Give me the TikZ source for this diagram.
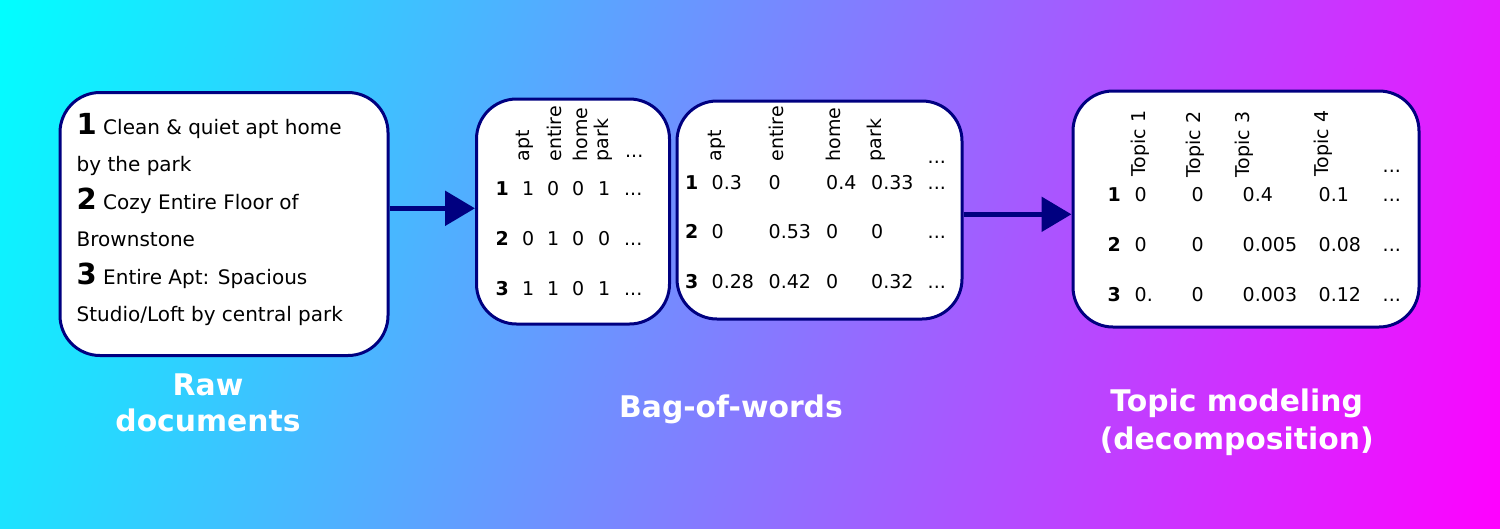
\documentclass[tikz,border=0pt]{standalone}
\usepackage{fontspec}
\setmainfont{DejaVu Sans}
\usetikzlibrary{arrows.meta,shadings}
\definecolor{navy}{RGB}{0,0,128}
\definecolor{cTL}{RGB}{0,255,255}
\definecolor{cTR}{RGB}{227,28,255}
\definecolor{cBL}{RGB}{28,227,255}
\definecolor{cBR}{RGB}{255,0,255}
\tikzset{
  box/.style={draw=navy, line width=3pt, fill=white, rounded corners=40pt, inner sep=0pt},
  txt/.style={anchor=base west, inner sep=0pt, font=\fontsize{20}{20}\selectfont},
  tb/.style={anchor=base west, inner sep=0pt, font=\fontsize{19}{19}\selectfont},
  hd/.style={tb, rotate=90},
  rn/.style={anchor=base west, inner sep=0pt, font=\fontsize{19}{19}\selectfont\bfseries},
  lab/.style={anchor=base, inner sep=0pt, text=white, font=\fontsize{29.8}{29.8}\selectfont\bfseries},
  arr/.style={draw=navy, line width=5.5pt, -{Triangle[length=30pt,width=34pt]}},
}
\newcommand{\bnum}[1]{{\bfseries\fontsize{29}{29}\selectfont #1}}
\begin{document}
\begin{tikzpicture}[x=1pt,y=-1pt]
\useasboundingbox (0,0) rectangle (1500,528);
\shade[upper left=cTL, upper right=cTR, lower left=cBL, lower right=cBR] (0,0) rectangle (1500,528);

% boxes
\node[box, minimum width=328pt, minimum height=263pt] (raw) at (224,224) {};
\node[box, minimum width=193pt, minimum height=225pt] (bow) at (573,211.5) {};
\node[box, minimum width=285pt, minimum height=218pt] (tfidf) at (819.5,210) {};
\node[box, minimum width=346pt, minimum height=236pt] (topic) at (1246,209) {};

% arrows
\draw[arr] (raw.east |- 0,208.3) -- (bow.west |- 0,208.3);
\draw[arr] (tfidf.east |- 0,214.3) -- (topic.west |- 0,214.3);

% raw documents text
\node[txt] (r1) at (76.5,134.3) {\bnum{1} Clean \& quiet apt home};
\node[txt] (r1b) at (76.5,171) {by the park};
\node[txt] (r2) at (76.5,209) {\bnum{2} Cozy Entire Floor of};
\node[txt] (r2b) at (76.5,246) {Brownstone};
\node[txt] (r3) at (76.5,284) {\bnum{3} Entire Apt: Spacious};
\node[txt] (r3b) at (76.5,321) {Studio/Loft by central park};

% bag of words (counts)
\node[hd] (bh1) at (529,161.7) {apt};
\node[hd] (bh2) at (561.5,161.7) {entire};
\node[hd] (bh3) at (587.5,161.7) {home};
\node[hd] (bh4) at (608.5,161.7) {park};
\node[tb] (bh5) at (625,157) {...};
\node[rn] (br1) at (495.5,195) {1};
\node[rn] (br2) at (495.5,245) {2};
\node[rn] (br3) at (495.5,295) {3};
\node[tb] (b11) at (522,195) {1};
\node[tb] (b12) at (547,195) {0};
\node[tb] (b13) at (572,195) {0};
\node[tb] (b14) at (598,195) {1};
\node[tb] (b15) at (624,195) {...};
\node[tb] (b21) at (522,245) {0};
\node[tb] (b22) at (547,245) {1};
\node[tb] (b23) at (572,245) {0};
\node[tb] (b24) at (598,245) {0};
\node[tb] (b25) at (624,245) {...};
\node[tb] (b31) at (522,295) {1};
\node[tb] (b32) at (547,295) {1};
\node[tb] (b33) at (572,295) {0};
\node[tb] (b34) at (598,295) {1};
\node[tb] (b35) at (624,295) {...};

% bag of words (weights)
\node[hd] (th1) at (721,161.7) {apt};
\node[hd] (th2) at (783,161.7) {entire};
\node[hd] (th3) at (840,161.7) {home};
\node[hd] (th4) at (881,161.7) {park};
\node[tb] (th5) at (927.5,163.5) {...};
\node[rn] (tr1) at (685,189.3) {1};
\node[rn] (tr2) at (685,238.3) {2};
\node[rn] (tr3) at (685,288.3) {3};
\node[tb] (t11) at (711.5,189.3) {0.3};
\node[tb] (t12) at (768.5,189.3) {0};
\node[tb] (t13) at (826,189.3) {0.4};
\node[tb] (t14) at (871,189.3) {0.33};
\node[tb] (t15) at (927.5,189.3) {...};
\node[tb] (t21) at (711.5,238.3) {0};
\node[tb] (t22) at (768.5,238.3) {0.53};
\node[tb] (t23) at (826,238.3) {0};
\node[tb] (t24) at (871,238.3) {0};
\node[tb] (t25) at (927.5,238.3) {...};
\node[tb] (t31) at (711.5,288.3) {0.28};
\node[tb] (t32) at (768.5,288.3) {0.42};
\node[tb] (t33) at (826,288.3) {0};
\node[tb] (t34) at (871,288.3) {0.32};
\node[tb] (t35) at (927.5,288.3) {...};

% topic model
\node[hd] (ph1) at (1145,176.7) {Topic 1};
\node[hd] (ph2) at (1200,178) {Topic 2};
\node[hd] (ph3) at (1249,178) {Topic 3};
\node[hd] (ph4) at (1328.5,177) {Topic 4};
\node[tb] (ph5) at (1382.5,172) {...};
\node[rn] (pr1) at (1107.5,201.7) {1};
\node[rn] (pr2) at (1107.5,251.7) {2};
\node[rn] (pr3) at (1107.5,301.7) {3};
\node[tb] (p11) at (1134.5,201.7) {0};
\node[tb] (p12) at (1191.5,201.7) {0};
\node[tb] (p13) at (1242.5,201.7) {0.4};
\node[tb] (p14) at (1318.5,201.7) {0.1};
\node[tb] (p15) at (1382.5,201.7) {...};
\node[tb] (p21) at (1134.5,251.7) {0};
\node[tb] (p22) at (1191.5,251.7) {0};
\node[tb] (p23) at (1242.5,251.7) {0.005};
\node[tb] (p24) at (1318.5,251.7) {0.08};
\node[tb] (p25) at (1382.5,251.7) {...};
\node[tb] (p31) at (1134.5,301.7) {0.};
\node[tb] (p32) at (1191.5,301.7) {0};
\node[tb] (p33) at (1242.5,301.7) {0.003};
\node[tb] (p34) at (1318.5,301.7) {0.12};
\node[tb] (p35) at (1382.5,301.7) {...};

% labels
\node[lab] (l1a) at (208,395) {Raw};
\node[lab] (l1b) at (208,431) {documents};
\node[lab] (l2) at (731,417.7) {Bag-of-words};
\node[lab] (l3a) at (1236.7,411.7) {Topic modeling};
\node[lab] (l3b) at (1236.7,449) {(decomposition)};
\end{tikzpicture}
\end{document}
